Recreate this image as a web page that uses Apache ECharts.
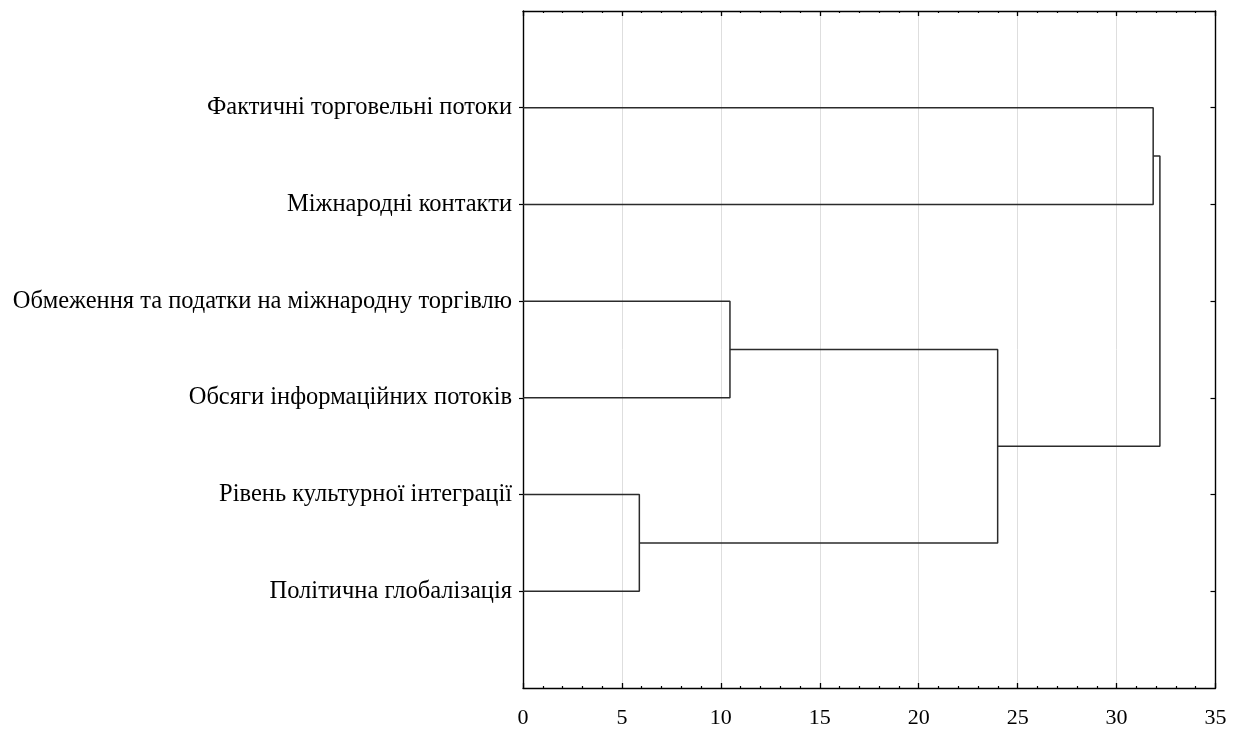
<!DOCTYPE html>
<html>
<head>
<meta charset="utf-8">
<script src="https://cdn.jsdelivr.net/npm/echarts@6/dist/echarts.min.js"></script>
<style>
  html, body { margin: 0; padding: 0; background: #fff; }
  #chart { width: 1241px; height: 729px; }
</style>
</head>
<body>
<div id="chart"></div>
<script>
// Leaf variables, listed top to bottom
const leafLabels = [
  'Фактичні торговельні потоки',
  'Міжнародні контакти',
  'Обмеження та податки на міжнародну торгівлю',
  'Обсяги інформаційних потоків',
  'Рівень культурної інтеграції',
  'Політична глобалізація'
];

// Agglomeration steps: nodes joined (leaves are 0..5, new clusters get 6, 7, ...)
const mergeLeft = [0, 2, 4, 7, 6];
const mergeRight = [1, 3, 5, 8, 9];
const linkageDistance = [31.85, 10.46, 5.88, 23.99, 32.19];

// X axis ticks
const xTicks = [0, 5, 10, 15, 20, 25, 30, 35];

// Node positions: x = linkage distance, y = vertical slot (1..6)
const nodeX = leafLabels.map(() => 0);
const nodeY = leafLabels.map((_, i) => i + 1);
const bracketSeries = [];
for (let k = 0; k < linkageDistance.length; k++) {
  const a = mergeLeft[k], b = mergeRight[k], h = linkageDistance[k];
  bracketSeries.push({
    type: 'line',
    xAxisIndex: 0,
    yAxisIndex: 0,
    symbol: 'none',
    silent: true,
    lineStyle: { color: '#2b2b2b', width: 1.5 },
    data: [[nodeX[a], nodeY[a]], [h, nodeY[a]], [h, nodeY[b]], [nodeX[b], nodeY[b]]],
    z: 3
  });
  nodeX.push(h);
  nodeY.push((nodeY[a] + nodeY[b]) / 2);
}

const slotValues = leafLabels.map((_, i) => i + 1);
const frameLine = { show: true, onZero: false, lineStyle: { color: '#000', width: 1.4 } };
const fontFamily = "'Liberation Serif', 'DejaVu Serif', serif";

const chart = echarts.init(document.getElementById('chart'), null, { renderer: 'canvas' });
chart.setOption({
  backgroundColor: '#fff',
  animation: false,
  grid: { left: 523, right: 25.5, top: 11, bottom: 38, containLabel: false },
  xAxis: [
    {
      type: 'value', position: 'bottom',
      min: xTicks[0], max: xTicks[xTicks.length - 1], interval: 5,
      axisLine: frameLine,
      axisTick: { show: true, inside: true, length: 5, lineStyle: { color: '#000', width: 1.3 } },
      minorTick: { show: true, splitNumber: 5, length: 2, lineStyle: { color: '#000', width: 1.2 } },
      splitLine: { show: true, lineStyle: { color: '#dedede', width: 1 } },
      axisLabel: {
        color: '#000', fontFamily: fontFamily, fontSize: 22, margin: 19,
        formatter: v => String(v)
      }
    },
    {
      type: 'value', position: 'top',
      min: xTicks[0], max: xTicks[xTicks.length - 1], interval: 5,
      axisLine: frameLine,
      axisTick: { show: true, inside: true, length: 5, lineStyle: { color: '#000', width: 1.3 } },
      minorTick: { show: true, splitNumber: 5, length: 2, lineStyle: { color: '#000', width: 1.2 } },
      splitLine: { show: false },
      axisLabel: { show: false }
    }
  ],
  yAxis: [
    {
      type: 'value', position: 'left', inverse: true,
      min: 0, max: 7, interval: 1,
      axisLine: frameLine,
      axisTick: { show: true, inside: false, length: 4, customValues: slotValues,
        lineStyle: { color: '#000', width: 1.2 } },
      splitLine: { show: false },
      axisLabel: {
        show: true, customValues: slotValues,
        color: '#000', fontFamily: fontFamily, fontSize: 24.5, margin: 11,
        padding: [2, 0, 0, 0],
        formatter: v => leafLabels[Math.round(v) - 1] || ''
      }
    },
    {
      type: 'value', position: 'right', inverse: true,
      min: 0, max: 7, interval: 1,
      axisLine: frameLine,
      axisTick: { show: true, inside: true, length: 5, customValues: slotValues,
        lineStyle: { color: '#000', width: 1.2 } },
      splitLine: { show: false },
      axisLabel: { show: false }
    }
  ],
  series: bracketSeries
});
</script>
</body>
</html>
